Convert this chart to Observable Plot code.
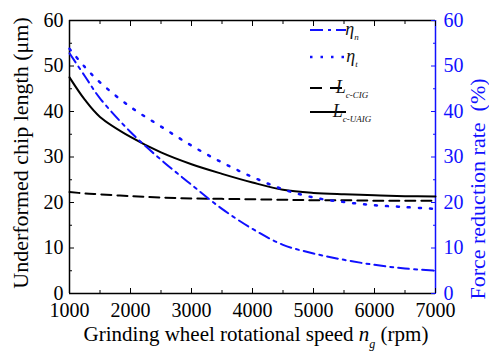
<!DOCTYPE html>
<html><head><meta charset="utf-8">
<script src="https://cdn.jsdelivr.net/npm/d3@7"></script>
<script src="https://cdn.jsdelivr.net/npm/@observablehq/plot@0.6"></script>
<style>body{margin:0;background:#fff} svg{display:block} svg text{font-family: "Liberation Serif", "Times New Roman", serif;}</style>
</head><body><div id="chart"></div>
<script>
// ---- data ----
const speeds = [1000,1250,1500,2000,2500,3000,3500,4000,4500,5000,5500,6000,6500,7000];
const etaN   = [52.8,47.8,42.9,35.5,29.4,23.9,18.6,14.2,10.7,8.8,7.4,6.3,5.5,5.0];
const etaT   = [53.8,49.8,46.4,41.0,36.7,32.5,28.8,25.6,22.9,21.1,20.1,19.4,19.0,18.6];
const lcCIG  = [22.3,22.0,21.8,21.4,21.1,20.9,20.8,20.7,20.6,20.5,20.5,20.4,20.4,20.4];
const lcUAIG = [47.5,42.6,38.8,34.4,31.0,28.4,26.3,24.4,22.8,22.1,21.8,21.6,21.4,21.3];
const xMajor = [1000,2000,3000,4000,5000,6000,7000];
const xMinor = [1500,2500,3500,4500,5500,6500];
const yMajor = [0,10,20,30,40,50,60];
const yMinor = [5,15,25,35,45,55];
const yLabelLeft = "Underformed chip length (μm)";
const yLabelRight = "Force reduction rate  (%)";

const BLUE = "#1010ff";
const FONT = "Liberation Serif, Times New Roman, serif";
const rows = vals => speeds.map((s, i) => ({x: s, y: vals[i]}));

const chart = Plot.plot({
  width: 489, height: 356,
  marginLeft: 69, marginRight: 54, marginTop: 20, marginBottom: 63,
  style: {fontFamily: FONT, fontSize: "20px", background: "white", color: "black", overflow: "visible"},
  x: {domain: [1000, 7000]},
  y: {domain: [0, 60]},
  marks: [
    // frame
    Plot.ruleY([0, 60], {stroke: "black", strokeWidth: 1.5}),
    Plot.ruleX([1000], {stroke: "black", strokeWidth: 1.5}),
    Plot.ruleX([7000], {stroke: BLUE, strokeWidth: 1.5}),
    // bottom axis
    Plot.axisX(xMajor, {anchor: "bottom", tickSize: -5, tickPadding: 14, tickFormat: d => String(d), fontSize: 20, label: null}),
    Plot.axisX(xMinor, {anchor: "bottom", tickSize: -3, text: null, label: null}),
    // top ticks
    Plot.axisX(xMajor, {anchor: "top", tickSize: -5, text: null, label: null}),
    Plot.axisX(xMinor, {anchor: "top", tickSize: -3, text: null, label: null}),
    // left axis
    Plot.axisY(yMajor, {anchor: "left", tickSize: -5, tickPadding: 11, tickFormat: d => String(d), fontSize: 20, label: null}),
    Plot.axisY(yMinor, {anchor: "left", tickSize: -3, text: null, label: null}),
    // right axis (blue)
    Plot.axisY(yMajor, {anchor: "right", tickSize: -5, tickPadding: 13, tickFormat: d => String(d), fontSize: 20, color: BLUE, stroke: BLUE, fill: BLUE, label: null}),
    Plot.axisY(yMinor, {anchor: "right", tickSize: -3, text: null, color: BLUE, stroke: BLUE, label: null}),
    // axis titles
    Plot.text([yLabelLeft], {frameAnchor: "left", textAnchor: "middle", lineAnchor: "middle", rotate: -90, dx: -49, dy: -4, fontSize: 22, fill: "black"}),
    Plot.text([yLabelRight], {frameAnchor: "right", textAnchor: "middle", lineAnchor: "middle", rotate: -90, dx: 42, dy: 32, fontSize: 22, fill: BLUE}),
    // series
    Plot.line(rows(lcCIG), {x: "x", y: "y", stroke: "black", strokeWidth: 2, strokeDasharray: "10,6", curve: "catmull-rom"}),
    Plot.line(rows(lcUAIG), {x: "x", y: "y", stroke: "black", strokeWidth: 2, curve: "catmull-rom"}),
    Plot.line(rows(etaT), {x: "x", y: "y", stroke: BLUE, strokeWidth: 2.5, strokeDasharray: "2,9", curve: "catmull-rom"}),
    Plot.line(rows(etaN), {x: "x", y: "y", stroke: BLUE, strokeWidth: 2, strokeDasharray: "11,5,3,5", curve: "catmull-rom"})
  ]
});
document.getElementById("chart").append(chart);

// ---- x title with italic subscript, and legend ----
const svg = d3.select(chart);
const xt = svg.append("text").attr("x", 256).attr("y", 341)
  .attr("text-anchor", "middle").attr("font-size", 21).attr("fill", "black");
xt.append("tspan").text("Grinding wheel rotational speed ");
xt.append("tspan").attr("font-style", "italic").text("n");
xt.append("tspan").attr("font-style", "italic").attr("font-size", 12).attr("dy", 7).text("g");
xt.append("tspan").attr("dy", -7).text(" (rpm)");

const legend = [
  {main: "η", sub: "n", y: 30, stroke: BLUE, dash: "13,5,3,5", w: 2},
  {main: "η", sub: "t", y: 57, stroke: BLUE, dash: "2.5,8", w: 2.5},
  {main: "L", sub: "c-CIG", y: 88, stroke: "black", dash: "12,8", w: 2},
  {main: "L", sub: "c-UAIG", y: 112, stroke: "black", dash: null, w: 2}
];
const lg = svg.append("g");
legend.forEach(d => {
  lg.append("line").attr("x1", 310).attr("x2", 346).attr("y1", d.y).attr("y2", d.y)
    .attr("stroke", d.stroke).attr("stroke-width", d.w).attr("stroke-dasharray", d.dash);
  const t = lg.append("text").attr("x", 352).attr("y", d.y + 5)
    .attr("font-style", "italic").attr("font-size", 18).attr("fill", "#111");
  t.append("tspan").text(d.main);
  t.append("tspan").attr("font-size", 9).attr("dy", 5).text(d.sub);
});
</script>
</body></html>
